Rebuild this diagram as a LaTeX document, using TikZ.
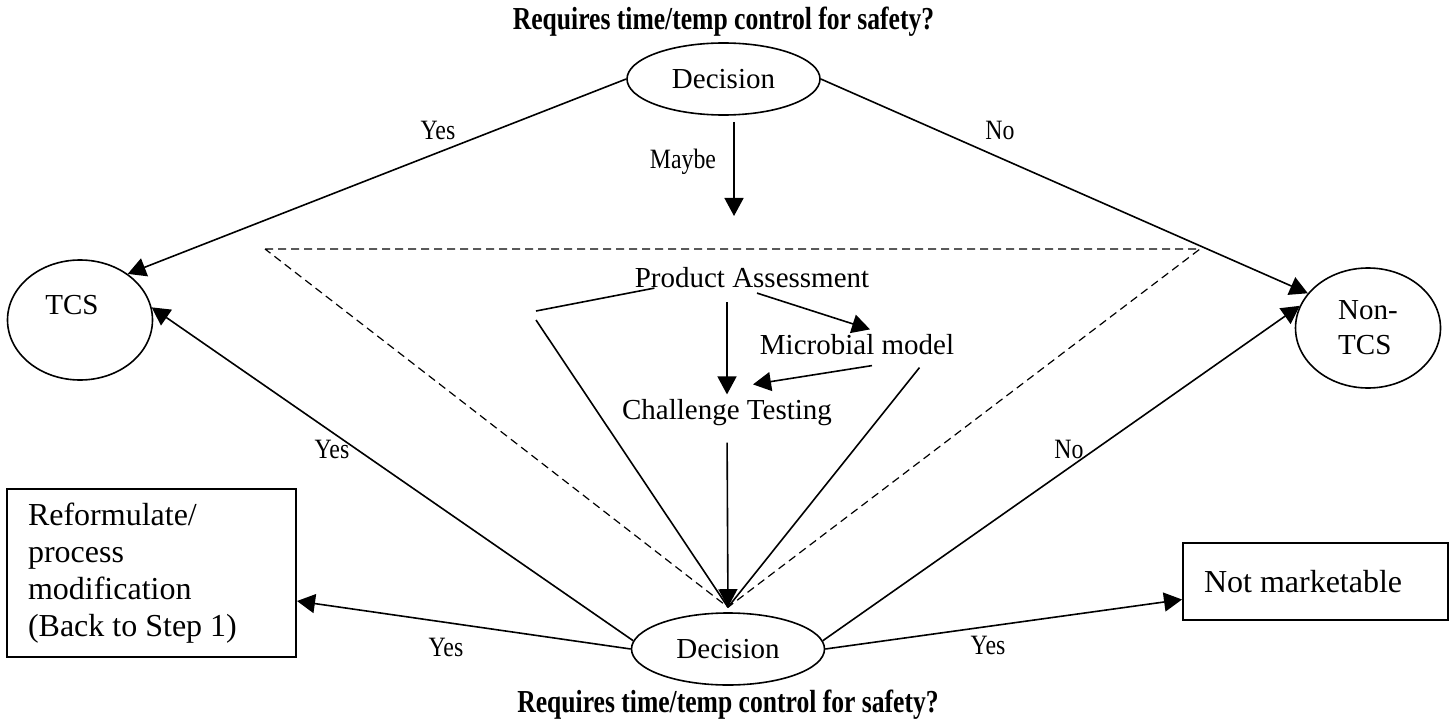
\documentclass[tikz,border=0pt]{standalone}
\usepackage{fontspec}
\setmainfont{Liberation Serif}
\newfontfamily\condfont[FakeStretch=0.8]{Liberation Serif}
\newfontfamily\lblfont[FakeStretch=0.85]{Liberation Serif}
\usepackage{tikz}
\usetikzlibrary{positioning}
\usetikzlibrary{shapes.geometric}
\usetikzlibrary{arrows.meta}

\begin{document}
\begin{tikzpicture}[x=0.5pt, y=-0.5pt,
  txt/.style={font=\fontsize{14.5}{17.5}\selectfont, inner sep=0pt},
  lbl/.style={font=\lblfont\fontsize{14}{16}\selectfont, inner sep=0pt},
  ttl/.style={font=\condfont\bfseries\fontsize{16}{18}\selectfont, inner sep=0pt},
  decision/.style={ellipse, draw, line width=0.8pt, minimum width=96.5pt, minimum height=36pt, inner sep=0pt, font=\fontsize{14.5}{17.5}\selectfont},
  outcome/.style={ellipse, draw, line width=0.8pt, minimum width=72.5pt, minimum height=60pt, inner sep=0pt, align=left, font=\fontsize{14.5}{17.5}\selectfont},
  action/.style={draw, line width=1pt, align=flush left, inner xsep=10.5pt, inner ysep=0pt, font=\fontsize{16}{18.5}\selectfont},
  arrow/.style={-{Triangle[length=9pt, width=9.5pt]}, line width=0.8pt},
  conn/.style={line width=0.8pt}]
\useasboundingbox (0,0) rectangle (1449,727);
% decisions and titles
\node[decision] (topdec) at (723.5,79) {Decision};
\node[decision] (botdec) at (728,649) {Decision};
\node[ttl, above=2.5pt of topdec] (toptitle) {Requires time/temp control for safety?};
\node[ttl, below=2pt of botdec] (bottitle) {Requires time/temp control for safety?};
% outcomes
\node[outcome] (tcs) at (80,320) {\raisebox{15pt}{TCS}\hspace{8pt}};
\node[outcome] (nontcs) at (1368,328) {Non-\\TCS};
\node[action, text width=123.5pt, minimum height=84pt] (reform) at (151.5,573) {Reformulate/\\process\\modification\\(Back to Step 1)};
\node[action, text width=111.5pt, minimum height=38.5pt] (notmkt) at (1315.5,581.5) {Not marketable};
% product assessment
\node[txt] (prod) at (752,277.5) {Product Assessment};
\node[txt] (micro) at (857,345) {Microbial model};
\node[txt] (chall) at (727,413) {Challenge Testing};
% labels
\node[lbl] (yes1) at (438,130) {Yes};
\node[lbl] (no1) at (1000,130) {No};
\node[lbl] (maybe) at (683,162) {Maybe};
\node[lbl] (yes2) at (332,449) {Yes};
\node[lbl] (no2) at (1069,449) {No};
\node[lbl] (yes3) at (446,647) {Yes};
\node[lbl] (yes4) at (988,645) {Yes};
% points
\coordinate (tl) at (265,249);
\coordinate (tr) at (1200,249);
\coordinate (apex) at ([yshift=2.5pt]botdec.north);
\coordinate (mayend) at (734,216);
\coordinate (brk) at (536,311);
% dashed triangle
\draw[dashed, dash pattern=on 4pt off 2.5pt, line width=0.6pt] (tl) -- (tr) -- (apex) -- cycle;
% arrows
\draw[arrow] (topdec.west) -- (tcs.44);
\draw[arrow] (topdec.east) -- (nontcs.150);
\draw[arrow, shorten <=3pt] (topdec.south -| mayend) -- (mayend);
\draw[arrow] ([xshift=2.5pt, yshift=-2.5pt]prod.south) -- ([xshift=6.5pt, yshift=2.5pt]micro.north);
\draw[arrow, shorten <=7pt, shorten >=2.5pt] (chall.north |- prod.south) -- (chall.north);
\draw[arrow] ([xshift=7.5pt, yshift=-5pt]micro.south) -- ([xshift=13pt, yshift=7.5pt]chall.north);
\draw[arrow, shorten <=8pt, shorten >=2.5pt] (chall.south) -- (botdec.north);
\draw[conn] ([xshift=10pt]prod.south west) -- (brk);
\draw[conn] ([yshift=-4.5pt]brk) -- (apex);
\draw[conn] ([xshift=-17.5pt, yshift=-6pt]micro.south east) -- (apex);
\draw[arrow] (botdec.175) -- (tcs.10);
\draw[arrow] (botdec.5) -- (nontcs.162);
\draw[arrow] (botdec.west) -- ([yshift=-14pt]reform.east);
\draw[arrow] (botdec.east) -- ([yshift=-9pt]notmkt.west);
\end{tikzpicture}
\end{document}
